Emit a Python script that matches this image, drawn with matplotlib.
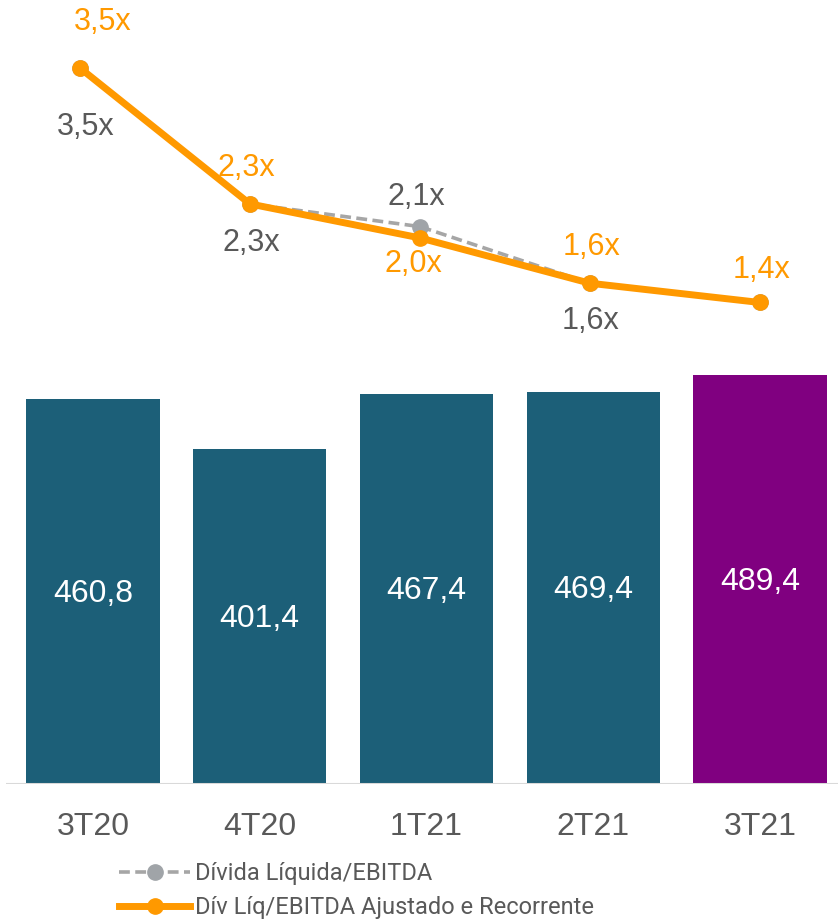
import matplotlib
matplotlib.use("Agg")
import matplotlib.pyplot as plt
import numpy as np

# data
periods = ["3T20", "4T20", "1T21", "2T21", "3T21"]
div_liq = [460.8, 401.4, 467.4, 469.4, 489.4]
div_labels = ["460,8", "401,4", "467,4", "469,4", "489,4"]
lev_gross = [3.5, 2.3, 2.1, 1.6, 1.43]
lev_gross_labels = ["3,5x", "2,3x", "2,1x", "1,6x", ""]
lev_adj = [3.5, 2.3, 2.0, 1.6, 1.43]
lev_adj_labels = ["3,5x", "2,3x", "2,0x", "1,6x", "1,4x"]

# label offsets in pixels (dx, dy), dy positive = up
off_gross = [(6, -59), (1, -39), (-4, 30), (1, -38), (0, 0)]
off_adj = [(23, 46), (-4, 36), (-7, -26), (2, 36), (2, 32)]

TEAL = "#1c5f78"
PURPLE = "#800080"
ORANGE = "#ff9900"
GREY_LINE = "#a6a6a6"
GREY_TXT = "#595959"

fig = plt.figure(figsize=(8.38, 9.22), dpi=100)
pos = [6 / 838, 138 / 922, 832 / 838, 784 / 922]

# bars
ax = fig.add_axes(pos)
x = np.arange(len(periods))
colors = [TEAL] * 4 + [PURPLE]
ax.bar(x, div_liq, width=0.8, color=colors)
for xi, v, lbl in zip(x, div_liq, div_labels):
    ax.text(xi, v / 2 - 3, lbl, ha="center", va="center", color="white",
            fontsize=23, family="Liberation Sans")
ax.set_xlim(-0.522, 4.468)
ax.set_ylim(0, 938.4)
ax.axhline(0, color="#d9d9d9", lw=2.2)
for s in ax.spines.values():
    s.set_visible(False)
ax.set_yticks([])
ax.set_xticks(x)
ax.set_xticklabels(periods, fontsize=23, color=GREY_TXT, family="Liberation Sans")
ax.tick_params(axis="x", length=0, pad=20)

# lines
lx = fig.add_axes(pos)
lx.patch.set_alpha(0)
lx.axis("off")
lx.set_xlim(-0.435, 4.459)
lx.set_ylim(-2.82, 4.10)
l1, = lx.plot(x, lev_gross, ls=(0, (3, 1.5)), color=GREY_LINE, lw=2.6,
              marker="o", ms=11, mfc="#a0a4a8", mec="#a0a4a8",
              label="Dívida Líquida/EBITDA")
l2, = lx.plot(x, lev_adj, color=ORANGE, lw=5, marker="o", ms=11,
              label="Dív Líq/EBITDA Ajustado e Recorrente")
for xi, v, lbl, (dx, dy) in zip(x, lev_gross, lev_gross_labels, off_gross):
    if lbl:
        lx.annotate(lbl, (xi, v), xytext=(dx, dy), textcoords="offset pixels",
                    ha="center", va="center", color=GREY_TXT, fontsize=22,
                    family="Liberation Sans")
for xi, v, lbl, (dx, dy) in zip(x, lev_adj, lev_adj_labels, off_adj):
    lx.annotate(lbl, (xi, v), xytext=(dx, dy), textcoords="offset pixels",
                ha="center", va="center", color=ORANGE, fontsize=22,
                family="Liberation Sans")

leg = fig.legend(handles=[l1, l2], loc="upper left",
                 bbox_to_anchor=(110 / 838, 1 - 853 / 922), frameon=False,
                 prop={"family": "Roboto", "size": 17}, handlelength=3.0,
                 handletextpad=0.2, labelspacing=0.45, borderaxespad=0)
for t in leg.get_texts():
    t.set_color(GREY_TXT)

fig.savefig("out.png", dpi=100)
